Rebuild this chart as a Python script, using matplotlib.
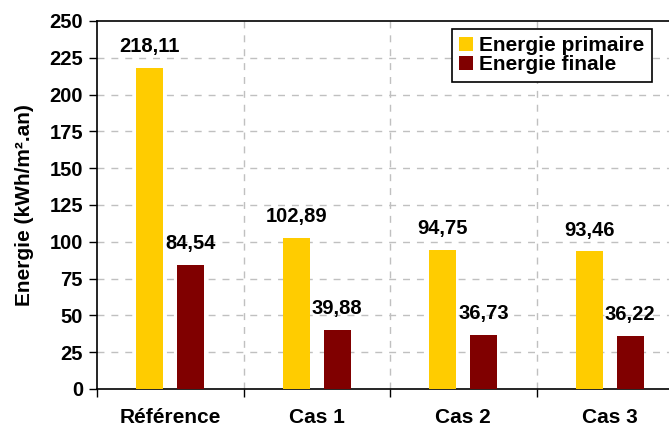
import numpy as np
import matplotlib
matplotlib.use("Agg")
import matplotlib.pyplot as plt

# donnees
categories = ["Référence", "Cas 1", "Cas 2", "Cas 3"]
primaire = [218.11, 102.89, 94.75, 93.46]
finale = [84.54, 39.88, 36.73, 36.22]
yticks = [0, 25, 50, 75, 100, 125, 150, 175, 200, 225, 250]

plt.rcParams["font.family"] = ["Liberation Sans", "DejaVu Sans"]
plt.rcParams["font.weight"] = "bold"

fig = plt.figure(figsize=(6.69, 4.30), dpi=100)
ax = fig.add_axes([97 / 669, 41 / 430, 1 - 97 / 669, 368 / 430])

x = np.arange(len(categories))
w = 0.184
off = 0.14
b1 = ax.bar(x - off, primaire, w, color="#FFCC00", label="Energie primaire", zorder=3)
b2 = ax.bar(x + off, finale, w, color="#800000", label="Energie finale", zorder=3)

for bars, vals in ((b1, primaire), (b2, finale)):
    for r, v in zip(bars, vals):
        ax.annotate(f"{v:.2f}".replace(".", ","),
                    (r.get_x() + r.get_width() / 2, r.get_height()),
                    xytext=(0, 8.5), textcoords="offset points",
                    ha="center", va="bottom", fontsize=14.5, fontweight="bold")

ax.set_ylim(0, 250)
ax.set_yticks(yticks)
ax.set_xlim(-0.5, -0.5 + 572 / 146.5)

# grille pointillee
for t in yticks[1:-1]:
    ax.axhline(t, color="#C0C0C0", lw=1, ls=(0, (5, 5)), zorder=1)
for xv in [0.5, 1.5, 2.5]:
    ax.axvline(xv, color="#C0C0C0", lw=1, ls=(0, (5, 5)), zorder=1)

# ticks x aux limites, labels au centre
ax.set_xticks([-0.5, 0.5, 1.5, 2.5])
ax.set_xticklabels([])
ax.set_xticks(x, minor=True)
ax.set_xticklabels(categories, minor=True, fontsize=15, fontweight="bold")
ax.tick_params(axis="x", which="major", length=6, width=1, direction="out")
ax.tick_params(axis="x", which="minor", length=0, pad=14)
ax.tick_params(axis="y", length=6, width=1, direction="out", pad=4, labelsize=14.5)
for lab in ax.get_yticklabels():
    lab.set_fontweight("bold")

ax.set_ylabel("Energie (kWh/m².an)", fontsize=15, fontweight="bold", labelpad=11)

ax.spines["right"].set_visible(False)
for s in ("left", "bottom", "top"):
    ax.spines[s].set_color("black")
    ax.spines[s].set_linewidth(1.2)

leg = fig.legend(loc="upper left", bbox_to_anchor=(452 / 669, 1 - 29 / 430),
                 fontsize=15, frameon=True, fancybox=False, framealpha=1,
                 edgecolor="black", handlelength=0.65, handleheight=0.65,
                 handletextpad=0.3, labelspacing=0.0, borderpad=0.35,
                 borderaxespad=0)
leg.get_frame().set_linewidth(1.2)
for t in leg.get_texts():
    t.set_fontweight("bold")

fig.savefig("out.png", dpi=100)
